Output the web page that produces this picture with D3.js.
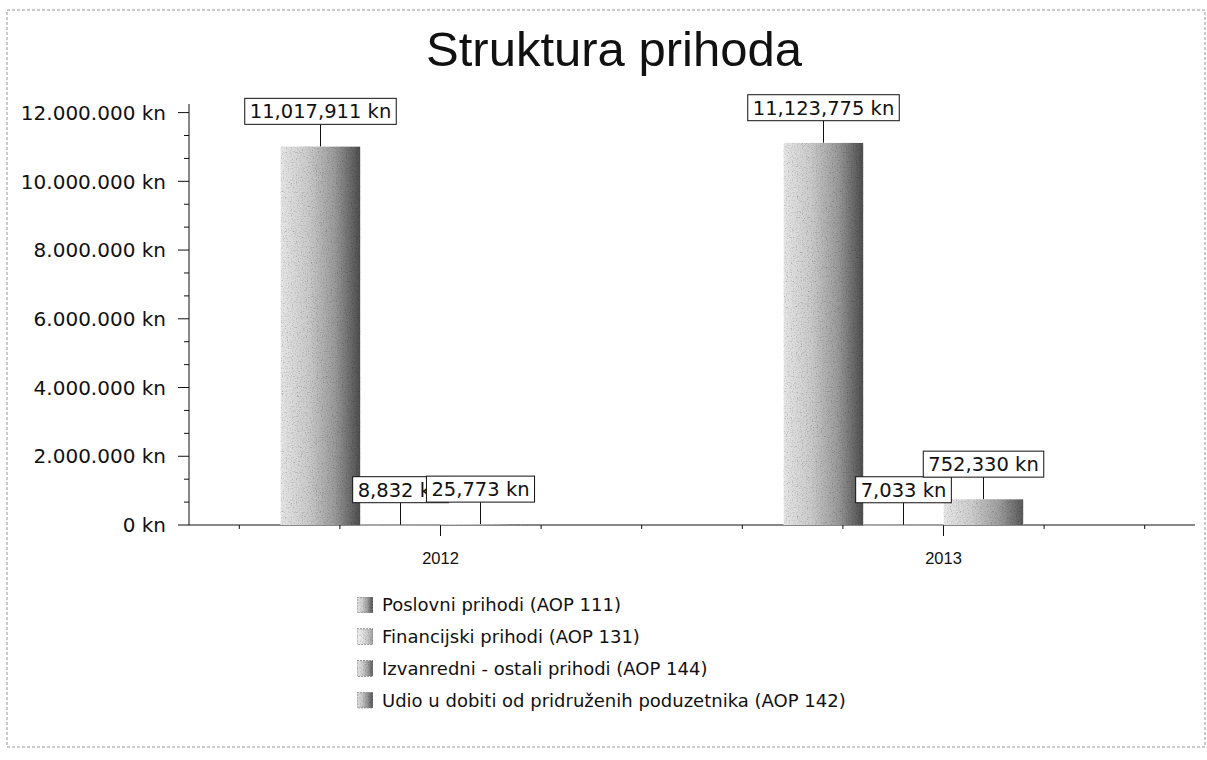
<!DOCTYPE html>
<html>
<head>
<meta charset="utf-8">
<script src="https://cdn.jsdelivr.net/npm/d3@7"></script>
<style>
  body { margin: 0; background: #fff; }
  text { font-family: "DejaVu Sans", Verdana, sans-serif; fill: #111; }
  .title, .xlab { font-family: "Liberation Sans", Arial, sans-serif; }
</style>
</head>
<body>
<div id="chart"></div>
<script>
(function(){
  const width = 1207;
  const height = 760;

  // data
  const years = ["2012", "2013"];
  const seriesNames = [
    "Poslovni prihodi (AOP 111)",
    "Financijski prihodi (AOP 131)",
    "Izvanredni - ostali prihodi (AOP 144)",
    "Udio u dobiti od pridruženih poduzetnika (AOP 142)"
  ];
  const poslovni = [11017911, 11123775];
  const financijski = [8832, 7033];
  const izvanredni = [25773, 752330];
  const udio = [0, 0];
  const yTicks = [0, 2000000, 4000000, 6000000, 8000000, 10000000, 12000000];

  const values = [poslovni, financijski, izvanredni, udio];

  const svg = d3.select("#chart")
    .append("svg")
    .attr("width", width)
    .attr("height", height);

  // scanned look: light dotted frame
  svg.append("rect")
    .attr("x", 7).attr("y", 10)
    .attr("width", 1198).attr("height", 737)
    .attr("fill", "none")
    .attr("stroke", "#999")
    .attr("stroke-dasharray", "3,2");

  // gradients for bars / swatches (grey, light left -> dark right)
  const defs = svg.append("defs");
  const grads = [
    ["#e6e6e6", "#cacaca", "#9a9a9a", "#4c4c4c"],
    ["#f4f4f4", "#e2e2e2", "#c8c8c8", "#a0a0a0"],
    ["#e8e8e8", "#cdcdcd", "#a0a0a0", "#585858"],
    ["#e0e0e0", "#c2c2c2", "#909090", "#505050"]
  ];
  grads.forEach((g, i) => {
    const lg = defs.append("linearGradient")
      .attr("id", "g" + i)
      .attr("x1", "0%").attr("x2", "100%")
      .attr("y1", "0%").attr("y2", "0%");
    [0, 0.35, 0.68, 1].forEach((o, j) => {
      lg.append("stop").attr("offset", o).attr("stop-color", g[j]);
    });
  });

  // grain, so the fills look a bit like the scanned dither
  const f = defs.append("filter").attr("id", "grain")
    .attr("x", 0).attr("y", 0).attr("width", 1).attr("height", 1);
  f.append("feTurbulence")
    .attr("type", "fractalNoise")
    .attr("baseFrequency", 0.8)
    .attr("numOctaves", 2)
    .attr("seed", 3)
    .attr("result", "noise");
  f.append("feColorMatrix")
    .attr("in", "noise")
    .attr("type", "matrix")
    .attr("values", "0.6 0.6 0.6 0 0.08  0.6 0.6 0.6 0 0.08  0.6 0.6 0.6 0 0.08  0 0 0 0 1")
    .attr("result", "grey");
  f.append("feBlend")
    .attr("in", "SourceGraphic")
    .attr("in2", "grey")
    .attr("mode", "multiply")
    .attr("result", "mix");
  f.append("feComposite")
    .attr("in", "mix")
    .attr("in2", "SourceGraphic")
    .attr("operator", "in");

  // title
  svg.append("text")
    .attr("class", "title")
    .attr("x", 614)
    .attr("y", 66)
    .attr("text-anchor", "middle")
    .style("font-size", "49px")
    .text("Struktura prihoda");

  const x = d3.scaleBand().domain(years).range([189, 1195]);
  const xSub = d3.scaleBand().domain(d3.range(seriesNames.length)).range([-160, 160]);
  const y = d3.scaleLinear().domain([0, 12250000]).range([525, 104]);

  const axisX0 = x.range()[0];

  // y axis
  svg.append("line")
    .attr("x1", axisX0).attr("x2", axisX0)
    .attr("y1", y(12250000)).attr("y2", y(0))
    .attr("stroke", "#111");

  const minorY = [];
  for (let i = 0; i < yTicks.length - 1; i++) {
    const step = (yTicks[i + 1] - yTicks[i]) / 3;
    minorY.push(yTicks[i] + step, yTicks[i] + 2 * step);
  }
  svg.selectAll(".ymin").data(minorY).enter().append("line")
    .attr("x1", axisX0 - 5).attr("x2", axisX0)
    .attr("y1", d => y(d)).attr("y2", d => y(d))
    .attr("stroke", "#111");

  const kn = d3.formatLocale({ decimal: ",", thousands: ".", grouping: [3], currency: ["", " kn"] });
  const fmtAxis = kn.format(",.0f");
  const fmtLabel = d3.format(",.0f");

  const yt = svg.selectAll(".ytick").data(yTicks).enter().append("g")
    .attr("transform", d => `translate(0,${y(d)})`);
  yt.append("line")
    .attr("x1", axisX0 - 11).attr("x2", axisX0)
    .attr("stroke", "#111");
  yt.append("text")
    .attr("x", 166)
    .attr("dy", "0.36em")
    .attr("text-anchor", "end")
    .style("font-size", "20px")
    .text(d => fmtAxis(d) + " kn");

  // x axis
  svg.append("line")
    .attr("x1", axisX0).attr("x2", x.range()[1])
    .attr("y1", y(0)).attr("y2", y(0))
    .attr("stroke", "#111");

  const minorX = [];
  years.forEach(yr => {
    const c = x(yr) + x.bandwidth() / 2;
    [-2, -1, 1, 2].forEach(k => minorX.push(c + k * x.bandwidth() / 5));
  });
  svg.selectAll(".xmin").data(minorX).enter().append("line")
    .attr("x1", d => d).attr("x2", d => d)
    .attr("y1", y(0)).attr("y2", y(0) + 4)
    .attr("stroke", "#111");

  const xt = svg.selectAll(".xtick").data(years).enter().append("g")
    .attr("transform", d => `translate(${x(d) + x.bandwidth() / 2},${y(0)})`);
  xt.append("line").attr("y2", 11).attr("stroke", "#111");
  xt.append("text")
    .attr("class", "xlab")
    .attr("y", 39)
    .attr("text-anchor", "middle")
    .style("font-size", "16.5px")
    .text(d => d);

  // bars
  const flat = [];
  years.forEach((yr, yi) => {
    values.forEach((arr, si) => flat.push({ year: yr, s: si, v: arr[yi] }));
  });

  svg.selectAll(".bar").data(flat.filter(d => d.v > 0)).enter().append("rect")
    .attr("x", d => x(d.year) + x.bandwidth() / 2 + xSub(d.s))
    .attr("width", xSub.bandwidth())
    .attr("y", d => y(d.v))
    .attr("height", d => Math.max(0.6, y(0) - y(d.v)))
    .attr("fill", d => `url(#g${d.s})`)
    .attr("filter", "url(#grain)");

  // value callouts
  const boxH = 26, gap = 22;
  flat.filter(d => d.v > 0).forEach(d => {
    const cx = x(d.year) + x.bandwidth() / 2 + xSub(d.s) + xSub.bandwidth() / 2;
    const top = y(d.v);
    const g = svg.append("g");
    g.append("line")
      .attr("x1", cx).attr("x2", cx)
      .attr("y1", top - gap).attr("y2", top)
      .attr("stroke", "#111");
    const t = g.append("text")
      .attr("x", cx)
      .attr("y", top - gap - boxH / 2)
      .attr("dy", "0.36em")
      .attr("text-anchor", "middle")
      .style("font-size", "19.5px")
      .text(fmtLabel(d.v) + " kn");
    const w = t.node().getComputedTextLength() + 10;
    g.insert("rect", "text")
      .attr("x", cx - w / 2)
      .attr("y", top - gap - boxH)
      .attr("width", w)
      .attr("height", boxH)
      .attr("fill", "#fff")
      .attr("stroke", "#111");
  });

  // legend
  const lg = svg.selectAll(".leg").data(seriesNames).enter().append("g")
    .attr("transform", (d, i) => `translate(357,${605 + i * 31.7})`);
  lg.append("rect")
    .attr("x", 0).attr("y", -8)
    .attr("width", 16).attr("height", 16)
    .attr("fill", (d, i) => `url(#g${i})`)
    .attr("filter", "url(#grain)")
    .attr("stroke", "#888")
    .attr("stroke-dasharray", "2,1");
  lg.append("text")
    .attr("x", 25)
    .attr("dy", "0.36em")
    .style("font-size", "18px")
    .text(d => d);
})();
</script>
</body>
</html>
